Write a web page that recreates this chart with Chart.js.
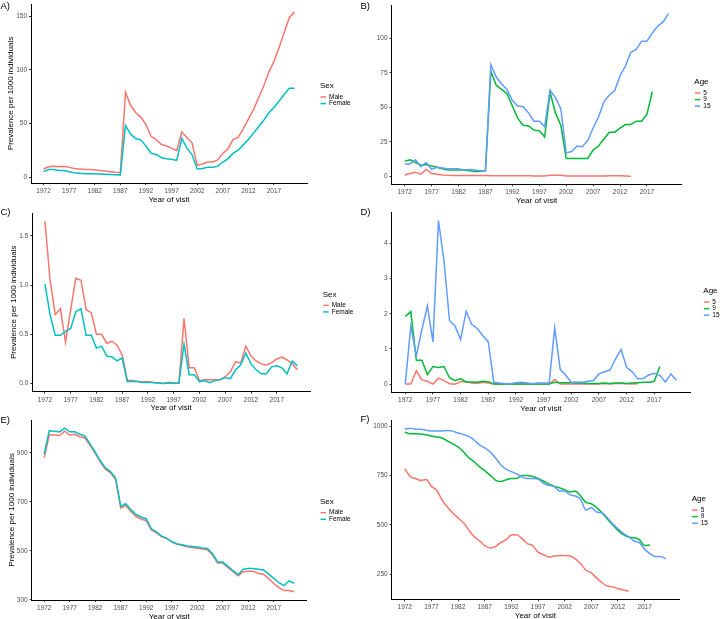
<!DOCTYPE html>
<html>
<head>
<meta charset="utf-8">
<script src="https://cdn.jsdelivr.net/npm/chart.js@4.4.0/dist/chart.umd.min.js"></script>
<style>
	html, body { margin: 0; padding: 0; background: #fff; }
	#page { position: relative; width: 720px; height: 619px; overflow: hidden; }
	#page canvas { position: absolute; top: 0; }
</style>
</head>
<body>
<div id="page">
	<canvas id="chartA" width="360" height="630" style="left:0"></canvas>
	<canvas id="chartB" width="360" height="630" style="left:360px"></canvas>
	<canvas id="chartC" width="360" height="630" style="left:0"></canvas>
	<canvas id="chartD" width="360" height="630" style="left:360px"></canvas>
	<canvas id="chartE" width="360" height="630" style="left:0"></canvas>
	<canvas id="chartF" width="360" height="630" style="left:360px"></canvas>
</div>
<script>
const FONT = "'Liberation Sans', Arial, Helvetica, sans-serif";
const RED = '#F8766D';
const TEAL = '#00BFC4';
const GREEN = '#00BA38';
const BLUE = '#619CFF';

const years = [
	1972, 1973, 1974, 1975, 1976, 1977, 1978, 1979, 1980, 1981,
	1982, 1983, 1984, 1985, 1986, 1987, 1988, 1989, 1990, 1991,
	1992, 1993, 1994, 1995, 1996, 1997, 1998, 1999, 2000, 2001,
	2002, 2003, 2004, 2005, 2006, 2007, 2008, 2009, 2010, 2011,
	2012, 2013, 2014, 2015, 2016, 2017, 2018, 2019, 2020, 2021,
];
const xTicks = [1972, 1977, 1982, 1987, 1992, 1997, 2002, 2007, 2012, 2017];
const xTickLabels = ['1972', '1977', '1982', '1987', '1992', '1997', '2002', '2007', '2012', '2017'];

// A) by sex
const maleA = [
	7.5, 9.5, 10, 9.5, 10, 9, 8, 7.5, 7, 7, 6.5, 6, 5.5, 5, 4.5, 4.2,
	79, 67, 60, 56, 49, 38, 35, 30.5, 29, 27, 24.5, 42, 37, 32,
	11, 12, 14, 14, 16, 22, 26, 35, 37, 45, 54, 63, 74, 85, 98, 108, 121, 135, 149, 154,
];
const femaleA = [
	5, 7, 7, 6, 6, 5, 4, 3.5, 3, 3, 3, 2.8, 2.5, 2.3, 2.2, 2,
	48, 40, 36, 34.5, 29, 22, 21, 18, 17, 16.5, 15.5, 36, 27, 21,
	7.5, 8, 9, 9, 10, 14, 17, 22, 25, 30, 35, 41, 47, 53, 60, 65, 71, 77, 83, 83,
];
const yTicksA = [0, 50, 100, 150];
const yLabelsA = ['0', '50', '100', '150'];

// B) by age
const age5B = [
	1, 2, 3, 1.5, 5, 2, 1.5, 1,
	0.7, 0.6, 0.6, 0.6, 0.6, 0.5, 0.5, 0.5, 0.4, 0.4,
	0.4, 0.4, 0.4, 0.4, 0.4, 0.4, 0.3, 0.3, 0.3, 0.8,
	0.8, 0.7, 0.3, 0.2, 0.2, 0.2, 0.2, 0.2, 0.3, 0.3,
	0.4, 0.4, 0.4, 0.3, 0.1,
];
const age9B = [
	11, 12, 10, 8, 8.5, 7.5, 6.5, 5.5, 4.5, 4.5, 4.5, 4.5, 4, 3.5, 3.5, 4,
	76, 66, 63, 60, 51, 42, 37, 36.5, 33.5, 33, 28.5, 61, 46, 37,
	13, 13, 13, 13, 13, 19, 22, 27, 32, 32, 35, 37.5, 37.5, 40, 40, 45, 61.5,
];
const age15B = [
	9, 9, 12, 7, 10, 5, 6.5, 6, 5.5, 5.5, 5.5, 4.5, 5, 4.5, 4, 4,
	81, 72, 67, 63, 55, 51, 50.5, 46, 40, 40, 36, 62.5, 57, 49,
	17, 18, 22, 21.5, 26, 35, 43, 54, 59, 62, 73, 80, 90, 92, 98, 98, 104, 109, 112, 118,
];
const yTicksB = [0, 25, 50, 75, 100];
const yLabelsB = ['0', '25', '50', '75', '100'];

// C) by sex
const maleC = [
	1.65, 1.05, 0.70, 0.76, 0.42, 0.75, 1.07, 1.05, 0.75, 0.72,
	0.50, 0.50, 0.41, 0.43, 0.39, 0.29, 0.03, 0.03, 0.02, 0.015,
	0.02, 0.01, 0.005, 0.0, 0.005, 0.0, 0.005, 0.66, 0.16, 0.16,
	0.03, 0.04, 0.04, 0.04, 0.04, 0.07, 0.12, 0.22, 0.21, 0.38,
	0.28, 0.23, 0.20, 0.19, 0.21, 0.25, 0.27, 0.24, 0.20, 0.14,
];
const femaleC = [
	1.01, 0.70, 0.49, 0.49, 0.53, 0.56, 0.73, 0.76, 0.49, 0.49,
	0.36, 0.38, 0.28, 0.27, 0.23, 0.26, 0.02, 0.02, 0.02, 0.01,
	0.01, 0.01, 0.005, 0.0, 0.01, 0.005, 0.005, 0.40, 0.09, 0.09,
	0.02, 0.03, 0.01, 0.03, 0.04, 0.06, 0.05, 0.14, 0.19, 0.31,
	0.20, 0.14, 0.10, 0.10, 0.17, 0.18, 0.16, 0.10, 0.23, 0.18,
];
const yTicksC = [0, 0.5, 1, 1.5];
const yLabelsC = ['0.0', '0.5', '1.0', '1.5'];

// D) by age
const age5D = [
	0.0, 0.0, 0.38, 0.12, 0.08, 0.0, 0.17, 0.1, 0.01, 0.0,
	0.07, 0.07, 0.03, 0.02, 0.05, 0.03, 0.0, 0.0, 0.0, 0.0,
	0.0, 0.0, 0.0, 0.0, 0.0, 0.0, 0.0, 0.13, 0.0, 0.0,
	0.0, 0.0, 0.01, 0.0, 0.0, 0.0, 0.02, 0.0, 0.02, 0.02,
	0.01, 0.0, 0.01,
];
const age9D = [
	1.92, 2.06, 0.68, 0.68, 0.27, 0.5, 0.47, 0.5, 0.18, 0.1,
	0.15, 0.06, 0.06, 0.05, 0.08, 0.07, 0.0, 0.0, 0.0, 0.0,
	0.0, 0.0, 0.0, 0.0, 0.0, 0.0, 0.0, 0.05, 0.04, 0.04,
	0.04, 0.03, 0.03, 0.02, 0.02, 0.02, 0.03, 0.02, 0.03, 0.03,
	0.02, 0.03, 0.04, 0.05, 0.05, 0.08, 0.5,
];
const age15D = [
	0.0, 1.65, 0.8, 1.55, 2.22, 1.2, 4.65, 3.5, 1.8, 1.65,
	1.27, 2.07, 1.7, 1.58, 1.38, 1.2, 0.05, 0.03, 0.02, 0.01,
	0.04, 0.05, 0.03, 0.01, 0.03, 0.03, 0.03, 1.6, 0.42, 0.25,
	0.05, 0.06, 0.05, 0.08, 0.1, 0.29, 0.35, 0.4, 0.72, 0.98,
	0.48, 0.35, 0.15, 0.16, 0.26, 0.31, 0.25, 0.06, 0.29, 0.11,
];
const yTicksD = [0, 1, 2, 3, 4];
const yLabelsD = ['0', '1', '2', '3', '4'];

// E) by sex
const maleE = [
	880, 972, 972, 970, 988, 972, 975, 965, 960, 930,
	897, 862, 833, 818, 790, 675, 685, 660, 640, 630,
	622, 585, 573, 558, 550, 537, 528, 523, 517, 514,
	511, 507, 504, 483, 450, 450, 432, 415, 398, 415,
	417, 417, 408, 405, 387, 367, 350, 338, 338, 333,
];
const femaleE = [
	895, 990, 987, 985, 1000, 985, 985, 975, 968, 935,
	902, 867, 838, 823, 797, 682, 692, 668, 648, 638,
	630, 590, 577, 560, 552, 537, 528, 525, 520, 518,
	516, 512, 510, 488, 455, 455, 437, 420, 403, 425,
	428, 428, 425, 422, 405, 388, 370, 358, 378, 368,
];
const yTicksE = [300, 500, 700, 900];
const yLabelsE = ['300', '500', '700', '900'];

// F) by age
const age5F = [
	785, 745, 735, 725, 730, 695, 675, 625, 590, 560,
	535, 510, 475, 440, 420, 395, 383, 390, 410, 425,
	448, 450, 430, 405, 395, 362, 350, 337, 342, 345,
	345, 342, 328, 303, 270, 257, 230, 207, 190, 186,
	176, 170, 164,
];
const age9F = [
	970, 962, 962, 960, 957, 950, 945, 940, 925, 910,
	895, 870, 840, 820, 795, 775, 752, 727, 720, 728,
	735, 735, 750, 750, 745, 735, 722, 708, 695, 688,
	678, 667, 670, 646, 614, 607, 587, 561, 530, 500,
	472, 450, 438, 435, 425, 395, 398,
];
const age15F = [
	985, 990, 985, 985, 980, 975, 975, 975, 978, 975,
	965, 958, 948, 930, 905, 890, 870, 840, 805, 782,
	770, 758, 742, 735, 735, 732, 712, 700, 695, 672,
	672, 652, 646, 629, 575, 587, 565, 561, 536, 505,
	480, 457, 440, 418, 410, 377, 354, 340, 340, 328,
];
const yTicksF = [250, 500, 750, 1000];
const yLabelsF = ['250', '500', '750', '1000'];

const Y_TITLE = 'Prevalence per 1000 individuals';
const X_TITLE = 'Year of visit';
const CANVAS_W = 360;
const CANVAS_H = 630;
const X_AXIS_H = 21;
const LINE_W = 1.5;

// ggplot-style legend and panel tag, drawn next to the plot
const ggLegend = {
	id: 'ggLegend',
	afterDraw(chart, args, o) {
		const ctx = chart.ctx;
		ctx.save();
		ctx.fillStyle = '#000';
		ctx.textAlign = 'left';
		ctx.textBaseline = 'middle';
		ctx.font = `9.5px ${FONT}`;
		ctx.fillText(o.tag, 0.5, o.tagY);
		ctx.font = `8px ${FONT}`;
		ctx.fillText(o.title, o.x, o.y);
		ctx.font = `6.5px ${FONT}`;
		chart.data.datasets.forEach((ds, i) => {
			const y = o.y + 11 + i * 6.6;
			ctx.strokeStyle = ds.borderColor;
			ctx.lineWidth = LINE_W;
			ctx.beginPath();
			ctx.moveTo(o.x + 0.5, y);
			ctx.lineTo(o.x + 6, y);
			ctx.stroke();
			ctx.fillText(ds.label, o.x + 9, y);
		});
		ctx.restore();
	},
};

function expand(lo, hi) {
	const d = (hi - lo) * 0.05;
	return [lo - d, hi + d];
}

function toPoints(values) {
	return values.map((v, i) => ({ x: years[i], y: v }));
}

function makePanel(id, cfg) {
	const all = cfg.series.flatMap((s) => s.values);
	const [yMin, yMax] = expand(Math.min(...all), Math.max(...all));
	const [xMin, xMax] = expand(years[0], years[years.length - 1]);
	const area = cfg.area;
	const n = cfg.series.length;

	new Chart(document.getElementById(id), {
		type: 'line',
		data: {
			datasets: cfg.series.map((s, i) => ({
				label: s.label,
				data: toPoints(s.values),
				borderColor: s.color,
				borderWidth: LINE_W,
				pointRadius: 0,
				fill: false,
				tension: 0,
				cubicInterpolationMode: cfg.smooth ? 'monotone' : 'default',
				order: n - i,
			})),
		},
		options: {
			responsive: false,
			animation: false,
			events: [],
			layout: {
				padding: {
					left: 0,
					top: area.top,
					right: CANVAS_W - area.right,
					bottom: CANVAS_H - area.bottom - X_AXIS_H,
				},
			},
			plugins: {
				legend: { display: false },
				tooltip: { enabled: false },
				ggLegend: cfg.legend,
			},
			scales: {
				x: {
					type: 'linear',
					min: xMin,
					max: xMax,
					afterBuildTicks: (s) => {
						s.ticks = xTicks.map((v) => ({ value: v }));
					},
					afterFit: (s) => {
						s.height = X_AXIS_H;
						s.paddingLeft = 0;
						s.paddingRight = 0;
					},
					ticks: {
						autoSkip: false,
						maxRotation: 0,
						padding: 2.2,
						color: '#4D4D4D',
						font: { family: FONT, size: 6.5, lineHeight: 1.2 },
						callback: (v, i) => xTickLabels[i],
					},
					grid: {
						display: true,
						drawOnChartArea: false,
						drawTicks: true,
						tickLength: 2,
						color: '#333333',
						lineWidth: 1,
					},
					border: { display: true, color: '#000', width: 1 },
					title: {
						display: true,
						text: X_TITLE,
						color: '#000',
						font: { family: FONT, size: 8, lineHeight: 1 },
						padding: { top: 0, bottom: 0.6 },
					},
				},
				y: {
					type: 'linear',
					min: yMin,
					max: yMax,
					afterBuildTicks: (s) => {
						s.ticks = cfg.yTicks.map((v) => ({ value: v }));
					},
					afterFit: (s) => {
						s.width = area.left;
						s.paddingTop = 0;
						s.paddingBottom = 0;
					},
					ticks: {
						autoSkip: false,
						padding: 2,
						color: '#4D4D4D',
						font: { family: FONT, size: 6.5, lineHeight: 1.2 },
						callback: (v, i) => cfg.yLabels[i],
					},
					grid: {
						display: true,
						drawOnChartArea: false,
						drawTicks: true,
						tickLength: 2,
						color: '#333333',
						lineWidth: 1,
					},
					border: { display: true, color: '#000', width: 1 },
					title: {
						display: cfg.yTitlePad !== undefined,
						text: Y_TITLE,
						color: '#000',
						font: { family: FONT, size: 8, lineHeight: 1 },
						padding: { top: cfg.yTitlePad || 0, bottom: 0 },
					},
				},
			},
		},
		plugins: [ggLegend],
	});
}

makePanel('chartA', {
	series: [
		{ label: 'Male', values: maleA, color: RED },
		{ label: 'Female', values: femaleA, color: TEAL },
	],
	yTicks: yTicksA, yLabels: yLabelsA,
	area: { left: 31, top: 4, right: 307, bottom: 183 },
	yTitlePad: 7,
	legend: { tag: 'A)', tagY: 6, title: 'Sex', x: 320, y: 86 },
});

makePanel('chartB', {
	series: [
		{ label: '5', values: age5B, color: RED },
		{ label: '9', values: age9B, color: GREEN },
		{ label: '15', values: age15B, color: BLUE },
	],
	yTicks: yTicksB, yLabels: yLabelsB,
	area: { left: 31.5, top: 5.5, right: 321.7, bottom: 184.3 },
	legend: { tag: 'B)', tagY: 6.5, title: 'Age', x: 334.3, y: 82 },
});

makePanel('chartC', {
	series: [
		{ label: 'Male', values: maleC, color: RED },
		{ label: 'Female', values: femaleC, color: TEAL },
	],
	yTicks: yTicksC, yLabels: yLabelsC,
	area: { left: 32.3, top: 213, right: 310, bottom: 391.7 },
	yTitlePad: 9.8,
	legend: { tag: 'C)', tagY: 212.7, title: 'Sex', x: 322.7, y: 294.3 },
});

makePanel('chartD', {
	series: [
		{ label: '5', values: age5D, color: RED },
		{ label: '9', values: age9D, color: GREEN },
		{ label: '15', values: age15D, color: BLUE },
	],
	yTicks: yTicksD, yLabels: yLabelsD,
	area: { left: 31.7, top: 212.3, right: 330, bottom: 392.3 },
	legend: { tag: 'D)', tagY: 212.7, title: 'Age', x: 343.3, y: 291 },
});

makePanel('chartE', {
	series: [
		{ label: 'Male', values: maleE, color: RED },
		{ label: 'Female', values: femaleE, color: TEAL },
	],
	yTicks: yTicksE, yLabels: yLabelsE,
	area: { left: 31.7, top: 420, right: 306.7, bottom: 600 },
	yTitlePad: 7.5,
	legend: { tag: 'E)', tagY: 420, title: 'Sex', x: 320, y: 501.7 },
});

makePanel('chartF', {
	series: [
		{ label: '5', values: age5F, color: RED },
		{ label: '9', values: age9F, color: GREEN },
		{ label: '15', values: age15F, color: BLUE },
	],
	yTicks: yTicksF, yLabels: yLabelsF,
	area: { left: 31.7, top: 420, right: 319, bottom: 599.3 },
	smooth: true,
	legend: { tag: 'F)', tagY: 419, title: 'Age', x: 331.7, y: 499 },
});
</script>
</body>
</html>
